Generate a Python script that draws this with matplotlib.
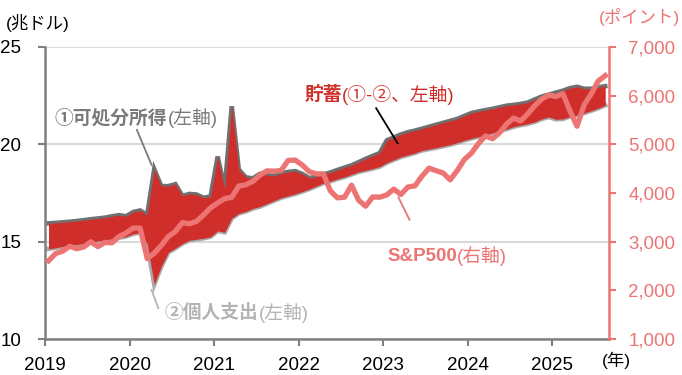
import numpy as np
import matplotlib
matplotlib.use('Agg')
import matplotlib.pyplot as plt

plt.rcParams['font.family'] = ['Liberation Sans', 'Noto Sans CJK JP', 'DejaVu Sans']

# monthly data, Jan 2019 - Aug 2025
# (1) disposable income, trillion $ (SAAR)
income = [15.94, 15.96, 15.99, 16.02, 16.06, 16.10, 16.15, 16.19, 16.23, 16.30, 16.36, 16.30,
          16.52, 16.60, 16.37, 18.72, 17.85, 17.85, 17.95, 17.35, 17.45, 17.42, 17.25, 17.32,
          19.37, 17.70, 21.95, 18.70, 18.30, 18.25, 18.48, 18.42, 18.37, 18.50, 18.58, 18.62,
          18.48, 18.26, 18.34, 18.45, 18.55, 18.68, 18.80, 18.92, 19.08, 19.25, 19.40, 19.55,
          20.20, 20.35, 20.50, 20.62, 20.70, 20.80, 20.90, 21.00, 21.10, 21.20, 21.30, 21.45,
          21.60, 21.68, 21.75, 21.82, 21.90, 21.98, 22.02, 22.07, 22.14, 22.30, 22.45, 22.55,
          22.65, 22.75, 22.88, 22.95, 22.85, 22.85, 22.92, 22.98]
# (2) personal outlays, trillion $ (SAAR)
outlays = [14.63, 14.68, 14.75, 14.80, 14.85, 14.90, 14.97, 15.03, 15.08, 15.15, 15.20, 15.26,
           15.40, 15.46, 14.90, 12.80, 13.72, 14.45, 14.66, 14.90, 15.07, 15.12, 15.17, 15.25,
           15.55, 15.48, 16.20, 16.45, 16.55, 16.70, 16.80, 16.95, 17.10, 17.25, 17.35, 17.45,
           17.57, 17.70, 17.85, 18.00, 18.10, 18.22, 18.32, 18.45, 18.58, 18.66, 18.75, 18.85,
           19.05, 19.20, 19.35, 19.45, 19.55, 19.68, 19.75, 19.82, 19.90, 19.98, 20.08, 20.20,
           20.30, 20.38, 20.48, 20.58, 20.68, 20.78, 20.90, 20.98, 21.05, 21.15, 21.30, 21.40,
           21.28, 21.30, 21.42, 21.50, 21.60, 21.72, 21.85, 22.00]
# S&P500, monthly average
sp500 = [2607, 2754, 2804, 2904, 2854, 2890, 2996, 2897, 2983, 2977, 3104, 3177,
         3278, 3278, 2652, 2762, 2920, 3105, 3207, 3392, 3366, 3418, 3549, 3695,
         3794, 3884, 3911, 4141, 4168, 4239, 4364, 4454, 4446, 4461, 4668, 4675,
         4574, 4436, 4392, 4392, 4041, 3899, 3912, 4159, 3851, 3727, 3917, 3913,
         3960, 4079, 3968, 4122, 4146, 4346, 4509, 4457, 4409, 4269, 4460, 4685,
         4816, 5012, 5171, 5113, 5235, 5415, 5538, 5478, 5621, 5792, 5930, 6010,
         5980, 6039, 5684, 5370, 5810, 6030, 6297, 6409]
years = [2019, 2020, 2021, 2022, 2023, 2024, 2025]

x = 2019 + (np.arange(len(income)) + 0.5) / 12

c_inc = '#707070'
c_out = '#a9a9a9'
c_red = '#d02e2a'
c_sp = '#ec7473'

fig = plt.figure(figsize=(6.82, 3.75), dpi=100)
ax = fig.add_axes([0.066, 0.096, 0.827, 0.779])

ax.plot(x, income, color=c_inc, lw=3.3, solid_joinstyle='miter', zorder=2)
ax.plot(x, outlays, color=c_out, lw=3.3, solid_joinstyle='miter', zorder=2)
ax.fill_between(x, outlays, income, color=c_red, lw=0, zorder=3)

ax.set_xlim(2019, 2025.67)
ax.set_ylim(10, 25)
ax.set_yticks([10, 15, 20, 25])
ax.set_xticks(years)
ax.grid(axis='y', color='#d9d9d9', lw=1.5, zorder=0)
ax.set_axisbelow(True)
for s in ['top', 'right']:
    ax.spines[s].set_visible(False)
for s in ['left', 'bottom']:
    ax.spines[s].set_color('#808080')
    ax.spines[s].set_linewidth(1.8)
ax.tick_params(axis='y', direction='out', length=5, width=1.5, color='#808080', pad=12, labelsize=13.5)
ax.tick_params(axis='x', direction='out', length=5, width=1.5, color='#808080', pad=8, labelsize=13.5)

ax2 = ax.twinx()
ax2.plot(x, sp500, color=c_sp, lw=3.8, zorder=4)
ax2.set_ylim(1000, 7000)
ax2.set_yticks(range(1000, 7001, 1000))
ax2.set_yticklabels([f'{v:,}' for v in range(1000, 7001, 1000)])
for s in ['top', 'left', 'bottom']:
    ax2.spines[s].set_visible(False)
ax2.spines['right'].set_color(c_sp)
ax2.spines['right'].set_linewidth(1.8)
ax2.tick_params(axis='y', direction='out', length=5, width=1.5, color=c_sp, labelcolor=c_sp, pad=9, labelsize=13.5)

# unit labels
fig.text(0.008, 0.94, '(兆ドル)', fontsize=12.5, va='center', ha='left')
fig.text(0.997, 0.955, '(ポイント)', fontsize=12.5, va='center', ha='right', color=c_sp)
fig.text(0.882, 0.04, '(年)', fontsize=12.5, va='center', ha='left')


def label(axis, xy, bold, rest, color):
    t = axis.text(xy[0], xy[1], bold, fontsize=13.5, fontweight='bold', color=color,
                  va='center', ha='left', zorder=6)
    axis.annotate(rest, xy=(1, 0.5), xycoords=t, fontsize=13.5, color=color,
                  va='center', ha='left', zorder=6)


label(ax, (2019.118, 21.35), '①可処分所得', '(左軸)', '#7a7a7a')
ax.plot([2020.086, 2020.26], [20.74, 18.94], color='#7a7a7a', lw=1.3, zorder=5)

label(ax, (2020.417, 11.34), '②個人支出', '(左軸)', '#b3b3b3')
ax.plot([2020.26, 2020.34], [12.52, 11.58], color='#b3b3b3', lw=1.3, zorder=5)

label(ax, (2022.07, 22.53), '貯蓄', '(①-②、左軸)', c_red)
ax.plot([2022.916, 2023.17], [21.85, 20.05], color='black', lw=1.3, zorder=5)

label(ax2, (2023.05, 2700), 'S&P500', '(右軸)', c_sp)
ax2.plot([2023.18, 2023.31], [3910, 3450], color=c_sp, lw=1.3, zorder=5)

fig.savefig('out.png', dpi=100)
